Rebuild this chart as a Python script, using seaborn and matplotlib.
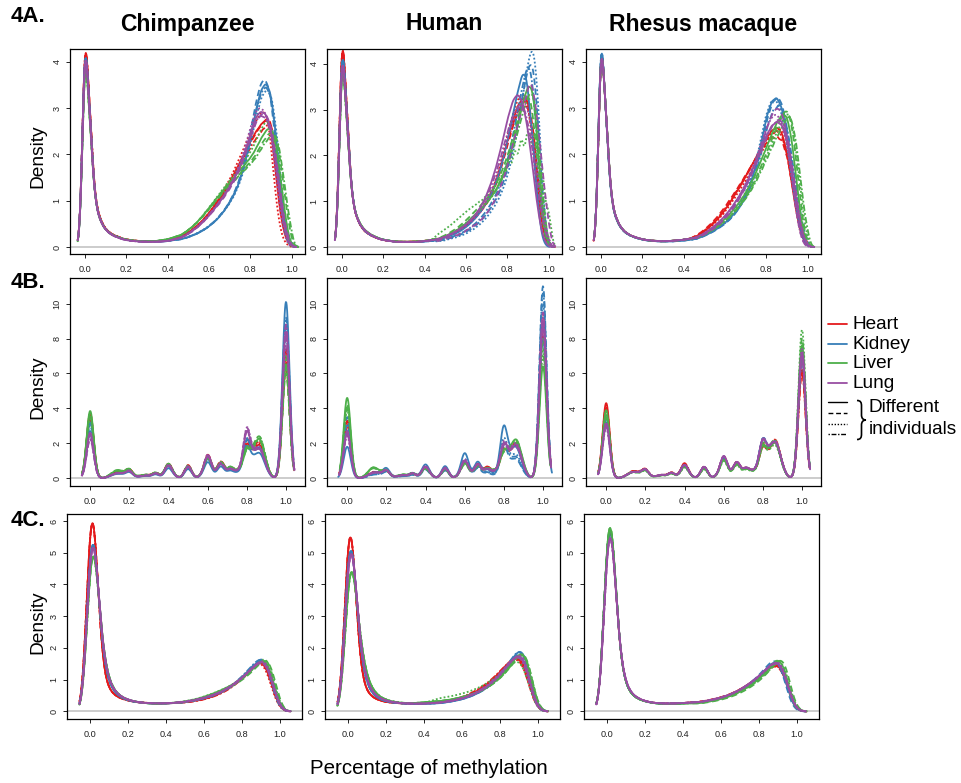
import numpy as np
import matplotlib
matplotlib.use("Agg")
import matplotlib.pyplot as plt
from matplotlib.path import Path
from matplotlib.patches import PathPatch
import seaborn as sns

sns.set_theme(style="ticks")
plt.rcParams["font.family"] = ["Liberation Sans", "DejaVu Sans"]
for key in ["text.color", "axes.labelcolor", "xtick.color", "ytick.color", "axes.edgecolor"]:
    plt.rcParams[key] = "black"

# ---------------------------------------------------------------- data
TISSUES = ["Heart", "Kidney", "Liver", "Lung"]
TISSUE_COLORS = ["#E41A1C", "#377EB8", "#4DAF4A", "#984EA3"]
SPECIES = ["Chimpanzee", "Human", "Rhesus macaque"]
ROW_TAGS = ["4A.", "4B.", "4C."]
X_TICKS = [0.0, 0.2, 0.4, 0.6, 0.8, 1.0]

# methylation level bins (rows A and C): 0, 0.025, ..., 1.0
LEVELS_AC = np.linspace(0.0, 1.0, 41)
# discrete methylation levels k/n seen at low coverage (row B)
LEVELS_B = [0.0, 0.1, 0.125, 0.143, 0.167, 0.2, 0.25, 0.286, 0.333, 0.375,
            0.4, 0.429, 0.5, 0.571, 0.6, 0.625, 0.667, 0.714, 0.75, 0.778,
            0.8, 0.833, 0.857, 0.875, 0.9, 1.0]

# Row A: binned density of methylation levels per tissue
CHIMP_A = {
    "Heart": [5.4, 2.8, 1.0, 0.6, 0.4, 0.3, 0.25, 0.2, 0.17, 0.15, 0.14, 0.13, 0.13, 0.13, 0.13, 0.14, 0.15, 0.17,
              0.22, 0.28, 0.35, 0.45, 0.55, 0.68, 0.82, 0.98, 1.15, 1.32, 1.5, 1.7, 1.9, 2.1, 2.3, 2.45, 2.58, 2.66, 2.6, 1.6, 0.7, 0.2, 0.05],
    "Kidney": [5.5, 2.8, 1.0, 0.6, 0.4, 0.3, 0.25, 0.2, 0.17, 0.15, 0.14, 0.13, 0.13, 0.13, 0.13, 0.13, 0.14, 0.16,
               0.18, 0.21, 0.25, 0.3, 0.36, 0.43, 0.52, 0.62, 0.75, 0.9, 1.08, 1.3, 1.6, 2.0, 2.5, 3.05, 3.45, 3.6, 3.4, 2.6, 1.3, 0.4, 0.06],
    "Liver": [5.4, 2.8, 1.05, 0.62, 0.42, 0.31, 0.26, 0.21, 0.18, 0.16, 0.15, 0.14, 0.14, 0.14, 0.15, 0.17, 0.19, 0.23,
              0.28, 0.36, 0.46, 0.58, 0.72, 0.88, 1.04, 1.2, 1.35, 1.5, 1.62, 1.75, 1.88, 2.0, 2.12, 2.3, 2.5, 2.65, 2.72, 2.4, 1.6, 0.7, 0.1],
    "Lung": [5.7, 2.9, 1.05, 0.62, 0.42, 0.31, 0.25, 0.2, 0.17, 0.15, 0.14, 0.13, 0.13, 0.13, 0.13, 0.14, 0.15, 0.18,
             0.22, 0.28, 0.36, 0.46, 0.57, 0.7, 0.84, 1.0, 1.15, 1.32, 1.5, 1.72, 1.98, 2.3, 2.65, 2.95, 3.05, 3.0, 2.75, 2.1, 1.2, 0.45, 0.06],
}
HUMAN_A = {
    "Heart": [5.5, 2.8, 1.0, 0.6, 0.4, 0.3, 0.24, 0.19, 0.16, 0.14, 0.13, 0.12, 0.12, 0.12, 0.12, 0.13, 0.14, 0.15,
              0.17, 0.2, 0.24, 0.29, 0.35, 0.42, 0.5, 0.6, 0.72, 0.86, 1.02, 1.25, 1.55, 1.95, 2.35, 2.75, 3.05, 3.2, 3.2, 2.5, 1.3, 0.4, 0.05],
    "Kidney": [5.35, 2.8, 1.05, 0.62, 0.42, 0.31, 0.25, 0.2, 0.17, 0.15, 0.13, 0.12, 0.12, 0.12, 0.12, 0.12, 0.13, 0.14,
               0.15, 0.17, 0.2, 0.24, 0.28, 0.33, 0.4, 0.48, 0.58, 0.7, 0.85, 1.02, 1.22, 1.5, 1.85, 2.3, 2.8, 3.3, 3.75, 3.8, 2.7, 1.1, 0.15],
    "Liver": [5.3, 2.8, 1.1, 0.68, 0.47, 0.35, 0.28, 0.22, 0.18, 0.16, 0.14, 0.13, 0.13, 0.13, 0.13, 0.14, 0.15, 0.17,
              0.2, 0.24, 0.3, 0.37, 0.45, 0.55, 0.66, 0.78, 0.9, 1.02, 1.15, 1.3, 1.5, 1.75, 2.05, 2.4, 2.8, 3.2, 3.5, 3.5, 2.5, 1.0, 0.12],
    "Lung": [5.35, 2.8, 1.05, 0.64, 0.44, 0.33, 0.26, 0.2, 0.17, 0.15, 0.13, 0.12, 0.12, 0.12, 0.12, 0.13, 0.14, 0.16,
             0.18, 0.22, 0.27, 0.33, 0.4, 0.48, 0.58, 0.7, 0.85, 1.05, 1.3, 1.62, 2.0, 2.45, 2.9, 3.25, 3.38, 3.2, 2.7, 1.9, 1.0, 0.35, 0.05],
}
RHESUS_A = {
    "Heart": [5.2, 2.8, 1.0, 0.6, 0.4, 0.3, 0.24, 0.2, 0.17, 0.15, 0.14, 0.13, 0.13, 0.13, 0.14, 0.15, 0.16, 0.18,
              0.22, 0.28, 0.36, 0.46, 0.57, 0.7, 0.85, 1.02, 1.2, 1.38, 1.58, 1.78, 1.98, 2.18, 2.38, 2.52, 2.6, 2.5, 2.1, 1.4, 0.7, 0.22, 0.04],
    "Kidney": [5.5, 2.8, 1.0, 0.6, 0.4, 0.3, 0.24, 0.2, 0.17, 0.15, 0.14, 0.13, 0.13, 0.13, 0.13, 0.14, 0.15, 0.16,
               0.18, 0.22, 0.27, 0.33, 0.4, 0.48, 0.57, 0.68, 0.82, 1.0, 1.2, 1.5, 1.85, 2.35, 2.9, 3.22, 3.3, 3.1, 2.5, 1.7, 0.9, 0.3, 0.04],
    "Liver": [5.1, 2.8, 1.0, 0.6, 0.4, 0.3, 0.24, 0.2, 0.17, 0.15, 0.14, 0.13, 0.13, 0.13, 0.14, 0.15, 0.16, 0.18,
              0.2, 0.25, 0.31, 0.38, 0.46, 0.55, 0.65, 0.77, 0.9, 1.05, 1.22, 1.42, 1.65, 1.9, 2.15, 2.4, 2.62, 2.78, 2.78, 2.3, 1.4, 0.5, 0.06],
    "Lung": [5.1, 2.8, 1.0, 0.6, 0.4, 0.3, 0.24, 0.2, 0.17, 0.15, 0.14, 0.13, 0.13, 0.13, 0.14, 0.15, 0.16, 0.18,
             0.2, 0.25, 0.31, 0.39, 0.48, 0.58, 0.7, 0.84, 1.0, 1.18, 1.38, 1.62, 1.88, 2.15, 2.42, 2.62, 2.72, 2.65, 2.35, 1.7, 0.9, 0.3, 0.04],
}

# Row C: binned density of methylation levels per tissue
CHIMP_C = {
    "Heart": [9.5, 6.2, 1.8, 0.9, 0.65, 0.5, 0.42, 0.37, 0.33, 0.3, 0.28, 0.27, 0.26, 0.25, 0.25, 0.25, 0.25, 0.25,
              0.26, 0.27, 0.28, 0.3, 0.32, 0.35, 0.38, 0.42, 0.47, 0.53, 0.6, 0.68, 0.78, 0.9, 1.02, 1.15, 1.3, 1.45, 1.58, 1.5, 1.0, 0.4, 0.08],
    "Kidney": [8.0, 6.0, 2.5, 1.3, 0.85, 0.6, 0.48, 0.4, 0.35, 0.31, 0.29, 0.27, 0.26, 0.25, 0.25, 0.25, 0.25, 0.26,
               0.27, 0.28, 0.3, 0.32, 0.35, 0.38, 0.42, 0.46, 0.51, 0.57, 0.64, 0.72, 0.82, 0.94, 1.07, 1.22, 1.38, 1.55, 1.68, 1.7, 1.25, 0.5, 0.1],
    "Liver": [7.2, 5.8, 2.8, 1.5, 0.95, 0.68, 0.52, 0.43, 0.37, 0.33, 0.3, 0.28, 0.26, 0.25, 0.25, 0.25, 0.26, 0.27,
              0.28, 0.3, 0.32, 0.35, 0.38, 0.42, 0.47, 0.52, 0.58, 0.64, 0.71, 0.78, 0.86, 0.95, 1.06, 1.18, 1.32, 1.48, 1.64, 1.75, 1.45, 0.65, 0.12],
    "Lung": [7.6, 5.9, 2.6, 1.4, 0.9, 0.64, 0.5, 0.42, 0.36, 0.32, 0.29, 0.27, 0.26, 0.25, 0.25, 0.25, 0.25, 0.26,
             0.27, 0.28, 0.3, 0.32, 0.35, 0.38, 0.42, 0.46, 0.51, 0.57, 0.64, 0.72, 0.82, 0.93, 1.05, 1.19, 1.34, 1.5, 1.62, 1.62, 1.2, 0.48, 0.09],
}
HUMAN_C = {
    "Heart": [9.2, 6.0, 1.7, 0.85, 0.6, 0.46, 0.38, 0.33, 0.3, 0.28, 0.27, 0.26, 0.25, 0.25, 0.25, 0.25, 0.26, 0.27,
              0.28, 0.3, 0.32, 0.34, 0.37, 0.4, 0.44, 0.5, 0.57, 0.65, 0.74, 0.84, 0.96, 1.1, 1.25, 1.42, 1.58, 1.7, 1.76, 1.6, 1.05, 0.4, 0.07],
    "Kidney": [8.0, 6.0, 2.6, 1.3, 0.82, 0.58, 0.45, 0.38, 0.33, 0.3, 0.28, 0.27, 0.26, 0.25, 0.25, 0.25, 0.25, 0.26,
               0.27, 0.29, 0.31, 0.33, 0.36, 0.39, 0.43, 0.48, 0.54, 0.61, 0.69, 0.79, 0.9, 1.03, 1.18, 1.35, 1.53, 1.72, 1.9, 1.95, 1.4, 0.55, 0.1],
    "Liver": [6.2, 5.3, 3.0, 1.7, 1.05, 0.72, 0.54, 0.44, 0.37, 0.33, 0.3, 0.28, 0.27, 0.27, 0.27, 0.28, 0.29, 0.31,
              0.33, 0.35, 0.37, 0.39, 0.42, 0.45, 0.49, 0.53, 0.58, 0.63, 0.7, 0.78, 0.87, 0.98, 1.1, 1.25, 1.42, 1.6, 1.78, 1.92, 1.55, 0.7, 0.12],
    "Lung": [7.4, 5.9, 2.7, 1.4, 0.88, 0.62, 0.48, 0.4, 0.34, 0.31, 0.28, 0.27, 0.26, 0.25, 0.25, 0.25, 0.25, 0.26,
             0.27, 0.29, 0.31, 0.33, 0.36, 0.39, 0.43, 0.48, 0.54, 0.61, 0.69, 0.79, 0.9, 1.03, 1.18, 1.35, 1.52, 1.68, 1.8, 1.75, 1.25, 0.48, 0.09],
}
RHESUS_C = {
    "Heart": [8.8, 7.2, 2.7, 1.3, 0.82, 0.58, 0.46, 0.39, 0.34, 0.3, 0.28, 0.27, 0.26, 0.26, 0.26, 0.27, 0.28, 0.29,
              0.31, 0.33, 0.35, 0.38, 0.41, 0.45, 0.49, 0.54, 0.6, 0.67, 0.75, 0.84, 0.94, 1.04, 1.15, 1.27, 1.38, 1.47, 1.5, 1.35, 0.9, 0.35, 0.06],
    "Kidney": [9.0, 7.4, 2.8, 1.3, 0.82, 0.58, 0.46, 0.39, 0.34, 0.3, 0.28, 0.27, 0.26, 0.26, 0.26, 0.27, 0.28, 0.29,
               0.31, 0.33, 0.35, 0.38, 0.41, 0.45, 0.49, 0.54, 0.6, 0.67, 0.75, 0.84, 0.94, 1.05, 1.17, 1.3, 1.45, 1.58, 1.6, 1.4, 0.85, 0.3, 0.05],
    "Liver": [9.4, 7.8, 2.9, 1.35, 0.85, 0.6, 0.47, 0.4, 0.35, 0.31, 0.29, 0.27, 0.26, 0.26, 0.26, 0.27, 0.28, 0.29,
              0.3, 0.32, 0.34, 0.37, 0.4, 0.44, 0.48, 0.53, 0.59, 0.66, 0.74, 0.82, 0.92, 1.02, 1.13, 1.26, 1.4, 1.55, 1.68, 1.7, 1.1, 0.4, 0.07],
    "Lung": [8.2, 7.0, 2.8, 1.35, 0.85, 0.6, 0.47, 0.4, 0.34, 0.3, 0.28, 0.27, 0.26, 0.26, 0.26, 0.27, 0.28, 0.29,
             0.31, 0.33, 0.35, 0.38, 0.41, 0.45, 0.49, 0.54, 0.6, 0.67, 0.75, 0.84, 0.94, 1.04, 1.15, 1.28, 1.4, 1.5, 1.55, 1.42, 0.95, 0.38, 0.06],
}

# Rows A and C, per individual: (width of the methylated mode, shift of its peak)
CHIMP_A_IND = {"Heart": [(0.93, 0.0), (0.91, 0.005), (0.88, -0.01), (0.95, 0.01)],
               "Kidney": [(0.93, 0.0), (0.91, -0.005), (0.96, 0.005), (0.95, 0.0)],
               "Liver": [(0.915, 0.0), (0.93, 0.01), (0.88, -0.01), (0.95, 0.015)],
               "Lung": [(0.91, 0.0), (0.92, 0.005), (0.89, -0.005), (0.94, 0.0)]}
HUMAN_A_IND = {"Heart": [(0.95, 0.0), (0.97, 0.005), (0.93, -0.005), (1.0, 0.0)],
               "Kidney": [(1.0, -0.03), (0.88, 0.0), (0.8, 0.005), (0.92, -0.01)],
               "Liver": [(0.88, 0.0), (0.95, -0.01), (1.3, 0.0), (0.92, 0.005)],
               "Lung": [(0.92, 0.0), (0.82, 0.05), (0.945, 0.02), (0.975, 0.01)]}
RHESUS_A_IND = {"Heart": [(0.97, 0.0), (1.05, 0.0), (0.97, 0.01), (1.0, 0.0)],
                "Kidney": [(0.96, 0.0), (0.95, 0.005), (0.98, -0.005), (1.0, 0.01)],
                "Liver": [(0.95, 0.0), (0.92, 0.01), (0.94, 0.015), (0.96, 0.02)],
                "Lung": [(0.98, 0.0), (0.88, 0.0), (0.93, -0.005), (0.96, 0.005)]}
CHIMP_C_IND = {"Heart": [(1.0, 0.0), (0.98, 0.0), (1.02, -0.005), (0.97, 0.005)],
               "Kidney": [(1.0, 0.0), (0.97, 0.0), (1.01, 0.005), (0.99, -0.005)],
               "Liver": [(1.0, 0.0), (0.97, 0.01), (1.02, 0.0), (0.95, 0.005)],
               "Lung": [(1.0, 0.0), (1.02, 0.0), (0.98, 0.005), (1.03, 0.0)]}
HUMAN_C_IND = {"Heart": [(0.97, 0.0), (1.0, 0.0), (0.98, 0.0), (1.02, -0.005)],
               "Kidney": [(0.9, 0.0), (0.93, 0.005), (0.96, 0.0), (0.92, -0.005)],
               "Liver": [(0.93, 0.0), (0.95, 0.005), (1.15, -0.02), (0.92, 0.005)],
               "Lung": [(0.95, 0.0), (0.97, 0.0), (0.93, 0.005), (0.98, -0.005)]}
RHESUS_C_IND = {"Heart": [(0.92, 0.0), (0.95, 0.0), (0.9, 0.005), (0.93, 0.0)],
                "Kidney": [(0.9, 0.0), (0.88, -0.005), (0.92, 0.0), (0.9, 0.005)],
                "Liver": [(0.88, 0.0), (0.84, 0.01), (0.9, 0.005), (0.87, -0.005)],
                "Lung": [(0.9, 0.0), (0.92, 0.0), (0.88, 0.005), (0.91, 0.0)]}

# Row B: share of sites at the intermediate levels (LEVELS_B without 0 and 1)
CHIMP_B = {
    "Heart": [0.004, 0.008, 0.008, 0.009, 0.022, 0.004, 0.008, 0.014, 0.003, 0.035, 0.004, 0.033,
              0.005, 0.055, 0.008, 0.042, 0.025, 0.015, 0.01, 0.085, 0.045, 0.045, 0.05, 0.02],
    "Kidney": [0.004, 0.007, 0.007, 0.008, 0.02, 0.004, 0.007, 0.013, 0.003, 0.033, 0.004, 0.032,
               0.005, 0.052, 0.008, 0.04, 0.024, 0.014, 0.01, 0.1, 0.045, 0.042, 0.045, 0.018],
    "Liver": [0.005, 0.01, 0.01, 0.01, 0.022, 0.005, 0.008, 0.014, 0.004, 0.034, 0.005, 0.032,
              0.006, 0.05, 0.009, 0.04, 0.026, 0.016, 0.01, 0.065, 0.05, 0.05, 0.055, 0.022],
    "Lung": [0.004, 0.007, 0.007, 0.008, 0.02, 0.004, 0.007, 0.014, 0.003, 0.036, 0.004, 0.034,
             0.005, 0.062, 0.008, 0.042, 0.025, 0.015, 0.01, 0.13, 0.045, 0.042, 0.045, 0.018],
}
HUMAN_B = {
    "Heart": [0.004, 0.009, 0.009, 0.009, 0.022, 0.004, 0.008, 0.013, 0.003, 0.03, 0.004, 0.028,
              0.005, 0.045, 0.008, 0.04, 0.03, 0.016, 0.01, 0.075, 0.05, 0.05, 0.05, 0.02],
    "Kidney": [0.003, 0.007, 0.007, 0.008, 0.024, 0.004, 0.007, 0.013, 0.003, 0.032, 0.004, 0.03,
               0.005, 0.058, 0.008, 0.04, 0.02, 0.008, 0.008, 0.12, 0.04, 0.04, 0.035, 0.015],
    "Liver": [0.006, 0.014, 0.012, 0.01, 0.018, 0.004, 0.008, 0.012, 0.003, 0.022, 0.004, 0.022,
              0.005, 0.032, 0.007, 0.03, 0.022, 0.014, 0.01, 0.055, 0.045, 0.045, 0.045, 0.02],
    "Lung": [0.004, 0.008, 0.008, 0.009, 0.022, 0.004, 0.008, 0.014, 0.003, 0.032, 0.004, 0.03,
             0.005, 0.048, 0.008, 0.04, 0.025, 0.015, 0.01, 0.09, 0.048, 0.048, 0.048, 0.02],
}
RHESUS_B = {
    "Heart": [0.004, 0.009, 0.009, 0.01, 0.023, 0.004, 0.008, 0.015, 0.003, 0.037, 0.004, 0.03,
              0.005, 0.052, 0.008, 0.042, 0.025, 0.015, 0.01, 0.075, 0.045, 0.05, 0.05, 0.02],
    "Kidney": [0.004, 0.008, 0.008, 0.009, 0.022, 0.004, 0.008, 0.014, 0.003, 0.034, 0.004, 0.03,
               0.005, 0.052, 0.008, 0.042, 0.025, 0.015, 0.01, 0.095, 0.048, 0.05, 0.048, 0.02],
    "Liver": [0.004, 0.009, 0.009, 0.009, 0.022, 0.004, 0.008, 0.014, 0.003, 0.032, 0.004, 0.028,
              0.005, 0.05, 0.008, 0.04, 0.025, 0.015, 0.01, 0.085, 0.05, 0.055, 0.05, 0.02],
    "Lung": [0.004, 0.008, 0.008, 0.009, 0.022, 0.004, 0.008, 0.014, 0.003, 0.033, 0.004, 0.03,
             0.005, 0.054, 0.008, 0.042, 0.025, 0.015, 0.01, 0.09, 0.048, 0.048, 0.048, 0.02],
}
# Row B, per individual: density peak height at 0 and at 1
CHIMP_B_IND = {"Heart": [(3.7, 7.4), (3.4, 6.2), (3.6, 7.0), (3.3, 6.6)],
               "Kidney": [(3.2, 10.1), (2.7, 8.8), (3.0, 8.2), (2.5, 9.2)],
               "Liver": [(3.85, 6.5), (3.6, 6.0), (3.4, 6.3), (3.7, 7.0)],
               "Lung": [(2.6, 8.4), (2.3, 8.0), (2.5, 7.6), (2.2, 8.8)]}
HUMAN_B_IND = {"Heart": [(3.3, 9.0), (3.0, 8.6), (2.8, 9.4), (3.2, 8.2)],
               "Kidney": [(1.8, 8.0), (3.5, 11.0), (2.7, 10.0), (3.1, 10.6)],
               "Liver": [(4.6, 6.4), (4.0, 8.0), (3.9, 7.4), (4.2, 7.0)],
               "Lung": [(2.6, 8.8), (2.5, 9.5), (2.4, 8.5), (2.7, 9.2)]}
RHESUS_B_IND = {"Heart": [(4.3, 6.2), (4.0, 6.8), (3.8, 7.2), (4.1, 6.0)],
                "Kidney": [(3.5, 7.0), (3.2, 7.4), (3.4, 6.8), (3.1, 7.2)],
                "Liver": [(3.9, 7.6), (3.6, 8.0), (3.7, 8.5), (3.5, 7.3)],
                "Lung": [(3.1, 7.2), (3.0, 7.0), (2.9, 7.4), (3.2, 6.9)]}

PANELS = [
    [(CHIMP_A, CHIMP_A_IND), (HUMAN_A, HUMAN_A_IND), (RHESUS_A, RHESUS_A_IND)],
    [(CHIMP_B, CHIMP_B_IND), (HUMAN_B, HUMAN_B_IND), (RHESUS_B, RHESUS_B_IND)],
    [(CHIMP_C, CHIMP_C_IND), (HUMAN_C, HUMAN_C_IND), (RHESUS_C, RHESUS_C_IND)],
]

# ---------------------------------------------------------------- style
ROW_BW = [0.014, 0.018, 0.025]
ROW_XLIM = [(-0.073, 1.065), (-0.103, 1.097), (-0.123, 1.117)]
ROW_YTICKS = [[0, 1, 2, 3, 4], [0, 2, 4, 6, 8, 10], [0, 1, 2, 3, 4, 5, 6]]
PANEL_YLIM = [[(-0.15, 4.275), (-0.15, 4.32), (-0.15, 4.275)],
              [(-0.45, 11.47), (-0.45, 11.47), (-0.45, 11.47)],
              [(-0.24, 6.22), (-0.24, 6.22), (-0.24, 6.22)]]
LINESTYLES = ["-", (0, (3.5, 2.0)), (0, (1.0, 1.2)), (0, (1.0, 1.2, 3.5, 1.2))]
LW = 1.3

W, H = 962, 783
ROW_TOP = [49, 278, 514]
ROW_H = [205, 208, 205]
ROW_LEFTS = [[70, 327, 586], [70, 327, 586], [67, 325, 584]]
BOX_W = 235


def px_axes(fig, left, top, w, h):
    return fig.add_axes([left / W, 1 - (top + h) / H, w / W, h / H])


def kde_line(ax, levels, weights, bw, color, ls):
    x = np.asarray(levels, float)
    w = np.asarray(weights, float)
    w = w / w.sum()
    sd = np.sqrt(np.cov(x, aweights=w))
    sns.kdeplot(x=x, weights=w, bw_method=bw / sd, cut=3, gridsize=500,
                color=color, linestyle=ls, linewidth=LW, ax=ax)


def individual_ac(base, width, shift, split=0.45):
    """Reshape the methylated mode of a tissue profile (mass preserving)."""
    x = LEVELS_AC.copy()
    w = np.asarray(base, float)
    hi = x >= split
    peak = x[hi][np.argmax(w[hi])]
    ramp = np.clip((x - split) / (peak - split), 0.0, 1.0)
    x_new = x + ((width - 1.0) * (x - peak) + shift) * ramp
    return np.clip(x_new, 0.0, 1.0), w


def individual_b(inner, p0, p1, bw):
    unit = bw * np.sqrt(2 * np.pi)
    m0, m1 = p0 * unit, p1 * unit
    inner = np.asarray(inner, float)
    inner = inner * (1 - m0 - m1) / inner.sum()
    return LEVELS_B, np.concatenate([[m0], inner, [m1]])


fig = plt.figure(figsize=(W / 100, H / 100), dpi=100)

for r in range(3):
    for c in range(3):
        ax = px_axes(fig, ROW_LEFTS[r][c], ROW_TOP[r], BOX_W, ROW_H[r])
        ax.axhline(0, color="#C4C4C4", lw=1.2, zorder=1)
        profile, individuals = PANELS[r][c]
        for tissue, color in zip(TISSUES, TISSUE_COLORS):
            for k, params in enumerate(individuals[tissue]):
                if r == 1:
                    xs, ws = individual_b(profile[tissue], params[0], params[1], ROW_BW[r])
                else:
                    xs, ws = individual_ac(profile[tissue], params[0], params[1])
                kde_line(ax, xs, ws, ROW_BW[r], color, LINESTYLES[k])
        ax.set_xlim(*ROW_XLIM[r])
        ax.set_ylim(*PANEL_YLIM[r][c])
        ax.set_xticks(X_TICKS)
        ax.set_xticklabels([f"{t:.1f}" for t in X_TICKS])
        ax.set_yticks(ROW_YTICKS[r])
        ax.set_yticklabels([str(t) for t in ROW_YTICKS[r]])
        ax.set_xlabel("")
        ax.set_ylabel("")
        ax.tick_params(axis="both", direction="out", length=3.2, width=0.6,
                       labelsize=6.6, labelcolor="#222222", color="black")
        ax.tick_params(axis="x", pad=4.5)
        ax.tick_params(axis="y", pad=3)
        plt.setp(ax.get_yticklabels(), rotation=90, va="center")
        for sp in ax.spines.values():
            sp.set_visible(True)
            sp.set_color("black")
            sp.set_linewidth(0.9)
        ax.set_facecolor("white")

# titles, panel tags, axis labels
for c, name in enumerate(SPECIES):
    cx = (ROW_LEFTS[0][c] + BOX_W / 2) / W
    fig.text(cx, 1 - 24 / H, name, ha="center", va="center",
             fontsize=16.5, fontweight="bold")
for r, tag in enumerate(ROW_TAGS):
    fig.text(11 / W, 1 - [17, 283, 520][r] / H, tag, ha="left", va="center",
             fontsize=16, fontweight="bold")
    fig.text(38 / W, 1 - [156, 387, 622][r] / H, "Density", rotation=90,
             ha="center", va="center", fontsize=13.8)
fig.text(429 / W, 1 - 768 / H, "Percentage of methylation", ha="center",
         va="center", fontsize=14.8)

# legend drawn in pixel units on its own blank axes
leg = fig.add_axes([818 / W, 1 - 450 / H, 144 / W, 140 / H])
leg.set_xlim(818, 962)
leg.set_ylim(450, 310)
leg.axis("off")
for name, color, yy in zip(TISSUES, TISSUE_COLORS, [324, 344, 363, 383]):
    leg.plot([828, 847], [yy, yy], color=color, lw=1.3)
    leg.text(853, yy, name, ha="left", va="center", fontsize=13.7)
for ls, yy in zip(LINESTYLES, [402, 413, 424, 434]):
    leg.plot([828, 847], [yy, yy], color="black", lw=1.0, linestyle=ls)
brace = Path(
    [(857, 400.5), (861, 400.5), (861.5, 403), (861.5, 406), (861.5, 415),
     (861.5, 418), (863, 420), (866, 420), (863, 420), (861.5, 422), (861.5, 425),
     (861.5, 434), (861.5, 437), (861, 439.5), (857, 439.5)],
    [Path.MOVETO, Path.CURVE4, Path.CURVE4, Path.CURVE4, Path.LINETO,
     Path.CURVE4, Path.CURVE4, Path.CURVE4, Path.CURVE4, Path.CURVE4, Path.CURVE4,
     Path.LINETO, Path.CURVE4, Path.CURVE4, Path.CURVE4])
leg.add_patch(PathPatch(brace, facecolor="none", edgecolor="black", lw=1.2))
leg.text(869, 407, "Different", ha="left", va="center", fontsize=13.7)
leg.text(869, 429, "individuals", ha="left", va="center", fontsize=13.7)

fig.savefig("out.png", dpi=100, facecolor="white")
